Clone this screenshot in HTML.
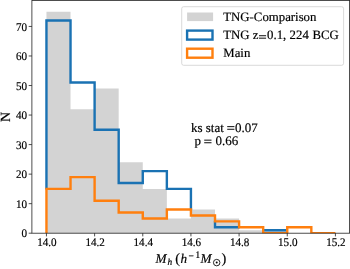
<!DOCTYPE html>
<html><head><meta charset="utf-8"><title>hist</title>
<style>
html,body{margin:0;padding:0;background:#fff;}
body{width:350px;height:269px;overflow:hidden;position:relative;font-family:"Liberation Serif",serif;}
svg text{font-family:"Liberation Serif",serif;fill:#000;stroke:#000;stroke-width:0.18px;text-rendering:geometricPrecision;}
.tk{font-size:11.7px;}
.lb{font-size:13.3px;}
.an{font-size:13px;}
.lg{font-size:12.8px;}
</style></head><body>
<svg width="350" height="269" viewBox="0 0 350 269" style="position:absolute;left:0;top:0;will-change:transform">
<rect x="0" y="0" width="350" height="269" fill="#fff"/>
<defs><clipPath id="ax"><rect x="31.90" y="0.55" width="317.70" height="232.65"/></clipPath></defs>
<g clip-path="url(#ax)">
<polygon points="46.45,233.20 46.45,11.68 70.53,11.68 70.53,109.15 94.61,109.15 94.61,88.47 118.69,88.47 118.69,162.31 142.77,162.31 142.77,188.90 166.85,188.90 166.85,218.43 190.93,218.43 190.93,209.57 215.01,209.57 215.01,218.43 239.09,218.43 239.09,230.25 263.17,230.25 263.17,230.25 287.25,230.25 287.25,233.20 311.33,233.20 311.33,233.20 335.41,233.20 335.41,233.20" fill="#d3d3d3"/>
<polyline points="46.45,189.50 46.45,20.54 70.53,20.54 70.53,82.57 94.61,82.57 94.61,129.82 118.69,129.82 118.69,182.99 142.77,182.99 142.77,171.17 166.85,171.17 166.85,188.90 190.93,188.90 190.93,210.17" fill="none" stroke="#1a72b3" stroke-width="2.4" stroke-linejoin="miter"/>
<polyline points="215.01,220.79 215.01,227.29 239.69,227.29" fill="none" stroke="#1a72b3" stroke-width="2.4" stroke-linejoin="miter"/>
<polyline points="263.17,230.25 287.25,230.25" fill="none" stroke="#1a72b3" stroke-width="2.4" stroke-linejoin="miter"/>
<polyline points="46.45,233.20 46.45,188.90 70.53,188.90 70.53,177.08 94.61,177.08 94.61,200.71 118.69,200.71 118.69,212.52 142.77,212.52 142.77,218.43 166.85,218.43 166.85,209.57 190.93,209.57 190.93,215.48 215.01,215.48 215.01,221.39 239.09,221.39 239.09,227.29 263.17,227.29 263.17,233.20 287.25,233.20 287.25,227.29 311.33,227.29 311.33,233.20 335.41,233.20 335.41,233.20" fill="none" stroke="#ff7f0e" stroke-width="2.4" stroke-linejoin="miter"/>
</g>
<rect x="31.90" y="0.55" width="317.70" height="232.65" fill="none" stroke="#222" stroke-width="0.8"/>
<line x1="46.45" y1="233.20" x2="46.45" y2="236.40" stroke="#222" stroke-width="0.8"/>
<text transform="translate(46.95,246.4) scale(0.95,1)" text-anchor="middle" class="tk">14.0</text>
<line x1="94.61" y1="233.20" x2="94.61" y2="236.40" stroke="#222" stroke-width="0.8"/>
<text transform="translate(95.11,246.4) scale(0.95,1)" text-anchor="middle" class="tk">14.2</text>
<line x1="142.77" y1="233.20" x2="142.77" y2="236.40" stroke="#222" stroke-width="0.8"/>
<text transform="translate(143.27,246.4) scale(0.95,1)" text-anchor="middle" class="tk">14.4</text>
<line x1="190.93" y1="233.20" x2="190.93" y2="236.40" stroke="#222" stroke-width="0.8"/>
<text transform="translate(191.43,246.4) scale(0.95,1)" text-anchor="middle" class="tk">14.6</text>
<line x1="239.09" y1="233.20" x2="239.09" y2="236.40" stroke="#222" stroke-width="0.8"/>
<text transform="translate(239.59,246.4) scale(0.95,1)" text-anchor="middle" class="tk">14.8</text>
<line x1="287.25" y1="233.20" x2="287.25" y2="236.40" stroke="#222" stroke-width="0.8"/>
<text transform="translate(287.75,246.4) scale(0.95,1)" text-anchor="middle" class="tk">15.0</text>
<line x1="335.41" y1="233.20" x2="335.41" y2="236.40" stroke="#222" stroke-width="0.8"/>
<text transform="translate(335.91,246.4) scale(0.95,1)" text-anchor="middle" class="tk">15.2</text>
<line x1="28.70" y1="233.20" x2="31.90" y2="233.20" stroke="#222" stroke-width="0.8"/>
<text transform="translate(27.0,237.25) scale(0.95,1)" text-anchor="end" class="tk">0</text>
<line x1="28.70" y1="203.66" x2="31.90" y2="203.66" stroke="#222" stroke-width="0.8"/>
<text transform="translate(27.0,207.71) scale(0.95,1)" text-anchor="end" class="tk">10</text>
<line x1="28.70" y1="174.13" x2="31.90" y2="174.13" stroke="#222" stroke-width="0.8"/>
<text transform="translate(27.0,178.18) scale(0.95,1)" text-anchor="end" class="tk">20</text>
<line x1="28.70" y1="144.59" x2="31.90" y2="144.59" stroke="#222" stroke-width="0.8"/>
<text transform="translate(27.0,148.64) scale(0.95,1)" text-anchor="end" class="tk">30</text>
<line x1="28.70" y1="115.06" x2="31.90" y2="115.06" stroke="#222" stroke-width="0.8"/>
<text transform="translate(27.0,119.11) scale(0.95,1)" text-anchor="end" class="tk">40</text>
<line x1="28.70" y1="85.52" x2="31.90" y2="85.52" stroke="#222" stroke-width="0.8"/>
<text transform="translate(27.0,89.57) scale(0.95,1)" text-anchor="end" class="tk">50</text>
<line x1="28.70" y1="55.98" x2="31.90" y2="55.98" stroke="#222" stroke-width="0.8"/>
<text transform="translate(27.0,60.03) scale(0.95,1)" text-anchor="end" class="tk">60</text>
<line x1="28.70" y1="26.45" x2="31.90" y2="26.45" stroke="#222" stroke-width="0.8"/>
<text transform="translate(27.0,30.50) scale(0.95,1)" text-anchor="end" class="tk">70</text>
<text transform="translate(9.5,116.9) rotate(-90)" text-anchor="middle" font-size="14">N</text>
<text x="155.60" y="262.90" class="xl" font-size="13.2" font-style="italic">M</text>
<text x="167.50" y="265.30" class="xl" font-size="9.4" font-style="italic">h</text>
<text x="175.20" y="263.20" class="xl" font-size="14.4">(</text>
<text x="180.40" y="262.90" class="xl" font-size="13.2" font-style="italic">h</text>
<text x="188.60" y="258.80" class="xl" font-size="9.5">−</text>
<text x="195.30" y="258.00" class="xl" font-size="10">1</text>
<text x="200.50" y="262.90" class="xl" font-size="13.2" font-style="italic">M</text>
<circle cx="216.7" cy="262.6" r="3.25" fill="none" stroke="#000" stroke-width="0.85"/>
<circle cx="216.7" cy="262.6" r="1.0" fill="#000"/>
<text x="221.60" y="263.20" class="xl" font-size="14.4">)</text>
<text transform="translate(191,131.6)" class="an" xml:space="preserve">ks stat</text>
<rect x="227.20" y="126.18" width="7.20" height="0.95" fill="#000"/>
<rect x="227.20" y="128.78" width="7.20" height="0.95" fill="#000"/>
<text transform="translate(235.0,131.6)" class="an">0.07</text>
<text transform="translate(194.6,145.3)" class="an">p</text>
<rect x="204.20" y="139.67" width="7.30" height="0.95" fill="#000"/>
<rect x="204.20" y="142.28" width="7.30" height="0.95" fill="#000"/>
<text transform="translate(215.5,145.3)" class="an">0.66</text>
<rect x="181.7" y="6.7" width="161.9" height="58.6" rx="2" ry="2" fill="#fff" fill-opacity="0.8" stroke="#ccc" stroke-opacity="0.8" stroke-width="0.9"/>
<rect x="187.1" y="12.5" width="26" height="8.6" fill="#d3d3d3"/>
<rect x="187.1" y="30.6" width="25.4" height="9" fill="none" stroke="#1a72b3" stroke-width="2.4"/>
<rect x="187.1" y="48.7" width="25.4" height="9" fill="none" stroke="#ff7f0e" stroke-width="2.4"/>
<text transform="translate(223.3,20.8)" class="lg">TNG-Comparison</text>
<text transform="translate(223.3,39.2)" class="lg">TNG z</text>
<rect x="259.00" y="35.27" width="7.10" height="0.95" fill="#000"/>
<rect x="259.00" y="37.68" width="7.10" height="0.95" fill="#000"/>
<text transform="translate(267.1,39.2)" class="lg">0.1,</text>
<text transform="translate(289.6,39.2)" class="lg">224</text>
<text transform="translate(312.4,39.2)" class="lg">BCG</text>
<text transform="translate(223.3,57.4)" class="lg">Main</text>
</svg>
</body></html>
